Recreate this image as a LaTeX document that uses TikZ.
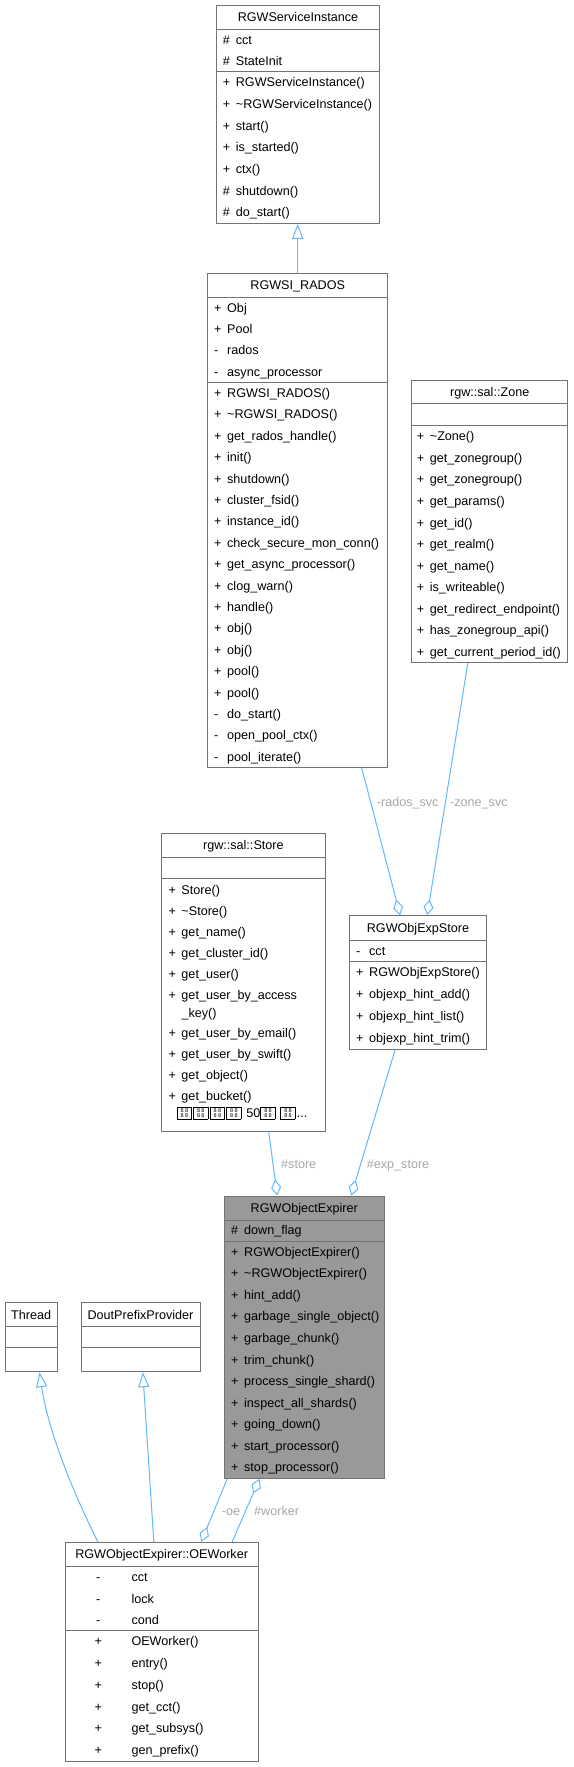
\documentclass[tikz,border=0pt]{standalone}
\usepackage{fontspec}
\setmainfont{Liberation Sans}
\usetikzlibrary{arrows.meta}
\definecolor{edgec}{HTML}{63B8FF}
\definecolor{boxc}{HTML}{737373}
\definecolor{labc}{HTML}{A8A8A8}
\definecolor{hlc}{HTML}{999999}
\newcommand\vpub{\makebox[13pt][l]{+}}
\newcommand\vpro{\makebox[13pt][l]{\#}}
\newcommand\vpri{\makebox[13pt][l]{-}}
\newcommand\tofu{\raisebox{-1.5pt}{\setlength\fboxsep{0pt}\setlength\fboxrule{0.7pt}\fbox{\vbox to 11.6pt{\baselineskip=0pt\lineskip=1pt\vss
  \hbox to 13.6pt{\hss\fontsize{5.5}{5}\selectfont 8\kern1.2pt8\hss}
  \hbox to 13.6pt{\hss\fontsize{5.5}{5}\selectfont 8\kern1.2pt8\hss}\vss}}}\kern1.5pt}
% [opt] name x1 x2 y0 y1 y2 y3 title
\newcommand\classbox[9][]{%
  \node[clsbox,#1,minimum width={#4-#3},minimum height={#8-#5}] (#2) at ({(#3+#4)/2},{(#5+#8)/2}) {};
  \draw[sepline] (#3,#6) -- (#4,#6);
  \draw[sepline] (#3,#7) -- (#4,#7);
  \node[rowtext,anchor=base] (#2-title) at ({(#3+#4)/2},{(#5+#6)/2+4.4}) {#9};
}
% prefix x ytop ybot n list
\newcommand\rowlist[6]{%
  \foreach \t [count=\i] in {#6} {
    \pgfmathsetmacro\yy{#3+(\i-0.5)*(#4-#3)/#5+4.4}
    \node[rowtext,anchor=base west] (#1-\i) at (#2,\yy) {\t};
  }
}
\begin{document}
\begin{tikzpicture}[x=1pt,y=-1pt,
  clsbox/.style={draw=boxc,line width=1pt,fill=white,inner sep=0pt,rectangle},
  sepline/.style={draw=boxc,line width=1pt},
  rowtext/.style={font=\fontsize{12.6}{15}\selectfont,inner sep=0pt,text=black},
  labtext/.style={font=\fontsize{12.6}{15}\selectfont,inner sep=0pt,text=labc,anchor=base west},
  inh/.style={draw=edgec,line width=1pt,-{Triangle[open,length=15pt,width=11pt]}},
  agg/.style={draw=edgec,line width=1pt,-{Diamond[open,length=16pt,width=10pt]}}]
\fill[white] (0,0) rectangle (573,1767);
\useasboundingbox (0,0) rectangle (573,1767);

% RGWServiceInstance
\classbox{svc}{216.7}{379.3}{5.3}{29.3}{71.7}{223.3}{RGWServiceInstance}
\rowlist{svc-a}{222.7}{29.3}{71.7}{2}{\vpro{cct},\vpro{StateInit}}
\rowlist{svc-m}{222.7}{71.7}{223.3}{7}{\vpub{RGWServiceInstance()},\vpub{\textasciitilde RGWServiceInstance()},\vpub{start()},\vpub{is\_started()},\vpub{ctx()},\vpro{shutdown()},\vpro{do\_start()}}

% RGWSI_RADOS
\classbox{rados}{207.7}{387.7}{273.3}{297.3}{382.3}{767.7}{RGWSI\_RADOS}
\rowlist{rados-a}{214}{297.3}{382.3}{4}{\vpub{Obj},\vpub{Pool},\vpri{rados},\vpri{async\_processor}}
\rowlist{rados-m}{214}{382.3}{767.7}{18}{\vpub{RGWSI\_RADOS()},\vpub{\textasciitilde RGWSI\_RADOS()},\vpub{get\_rados\_handle()},\vpub{init()},\vpub{shutdown()},\vpub{cluster\_fsid()},\vpub{instance\_id()},\vpub{check\_secure\_mon\_conn()},\vpub{get\_async\_processor()},\vpub{clog\_warn()},\vpub{handle()},\vpub{obj()},\vpub{obj()},\vpub{pool()},\vpub{pool()},\vpri{do\_start()},\vpri{open\_pool\_ctx()},\vpri{pool\_iterate()}}

% rgw::sal::Zone
\classbox{zone}{411.7}{567.7}{380.7}{403.3}{425.7}{662.7}{rgw::sal::Zone}
\rowlist{zone-m}{416.7}{425.7}{662.7}{11}{\vpub{\textasciitilde Zone()},\vpub{get\_zonegroup()},\vpub{get\_zonegroup()},\vpub{get\_params()},\vpub{get\_id()},\vpub{get\_realm()},\vpub{get\_name()},\vpub{is\_writeable()},\vpub{get\_redirect\_endpoint()},\vpub{has\_zonegroup\_api()},\vpub{get\_current\_period\_id()}}

% rgw::sal::Store
\classbox{store}{161.7}{325}{833.3}{857.3}{878.3}{1131.7}{rgw::sal::Store}
\foreach \yy/\t [count=\i] in {890/\vpub{Store()},911/\vpub{\textasciitilde Store()},932/\vpub{get\_name()},953/\vpub{get\_cluster\_id()},974/\vpub{get\_user()},994.8/{\vtop{\baselineskip=18pt\hbox{\vpub{get\_user\_by\_access}}\hbox{\makebox[13pt]{}\_key()}}},1033.5/\vpub{get\_user\_by\_email()},1054.5/\vpub{get\_user\_by\_swift()},1075.5/\vpub{get\_object()},1096.3/\vpub{get\_bucket()}} {
  \node[rowtext,anchor=base west] (store-m\i) at (168.3,\yy+4.4) {\t};
}
\node[rowtext,anchor=base west] (store-more) at (176.7,1117.6) {\tofu\tofu\tofu\tofu\ 50\tofu\ \tofu...};

% RGWObjExpStore
\classbox{oes}{349.3}{486.7}{915.7}{940.3}{961.3}{1049}{RGWObjExpStore}
\rowlist{oes-a}{356}{940.3}{961.3}{1}{\vpri{cct}}
\rowlist{oes-m}{356}{961.3}{1049}{4}{\vpub{RGWObjExpStore()},\vpub{objexp\_hint\_add()},\vpub{objexp\_hint\_list()},\vpub{objexp\_hint\_trim()}}

% RGWObjectExpirer
\classbox[fill=hlc]{exp}{224.3}{384.3}{1196}{1220}{1241}{1478.3}{RGWObjectExpirer}
\rowlist{exp-a}{231}{1220}{1241}{1}{\vpro{down\_flag}}
\rowlist{exp-m}{231}{1241}{1478.3}{11}{\vpub{RGWObjectExpirer()},\vpub{\textasciitilde RGWObjectExpirer()},\vpub{hint\_add()},\vpub{garbage\_single\_object()},\vpub{garbage\_chunk()},\vpub{trim\_chunk()},\vpub{process\_single\_shard()},\vpub{inspect\_all\_shards()},\vpub{going\_down()},\vpub{start\_processor()},\vpub{stop\_processor()}}

% Thread, DoutPrefixProvider
\classbox{thread}{5}{57.3}{1302.7}{1326.7}{1347.7}{1371.7}{Thread}
\classbox{dout}{81}{200}{1302.7}{1326.7}{1347.7}{1371.7}{DoutPrefixProvider}

% OEWorker
\classbox{oew}{65}{258.3}{1542.3}{1566.7}{1630.7}{1761}{RGWObjectExpirer::OEWorker}
\foreach \v/\t [count=\i] in {-/cct,-/lock,-/cond} {
  \pgfmathsetmacro\yy{1566.7+(\i-0.5)*64/3+4.4}
  \node[rowtext,anchor=base] (oew-av\i) at (98.3,\yy) {\v};
  \node[rowtext,anchor=base west] (oew-a\i) at (131.3,\yy) {\t};
}
\foreach \v/\t [count=\i] in {+/OEWorker(),+/entry(),+/stop(),+/get\_cct(),+/get\_subsys(),+/gen\_prefix()} {
  \pgfmathsetmacro\yy{1630.7+(\i-0.5)*130.3/6+4.4}
  \node[rowtext,anchor=base] (oew-mv\i) at (98.3,\yy) {\v};
  \node[rowtext,anchor=base west] (oew-m\i) at (131.3,\yy) {\t};
}

% connectors
\draw[inh] (rados.north) -- (rados.north |- svc.south);
\draw[agg] ([xshift=154.6pt]rados.south west) -- ([xshift=51.4pt]oes.north west);
\draw[agg] ([xshift=56.6pt]zone.south west) -- ([xshift=78.4pt]oes.north west);
\draw[agg] ([xshift=107.6pt]store.south west) -- ([xshift=53.4pt]exp.north west);
\draw[agg] ([xshift=46.4pt]oes.south west) -- ([xshift=127.4pt]exp.north west);
\draw[inh] ([xshift=33.3pt]oew.north west) .. controls (72,1490) and (48,1430) .. ([xshift=35pt]thread.south west);
\draw[inh] ([xshift=89.3pt]oew.north west) -- ([xshift=62.3pt]dout.south west);
\draw[agg] ([xshift=3.4pt]exp.south west) -- ([xshift=136.7pt]oew.north west);
\draw[agg] ([xshift=167.7pt]oew.north west) -- ([xshift=35.7pt]exp.south west);

% labels
\node[labtext] (l-rados) at (376.7,806.4) {-rados\_svc};
\node[labtext] (l-zone) at (450,806.4) {-zone\_svc};
\node[labtext] (l-store) at (281,1168.4) {\#store};
\node[labtext] (l-exps) at (366.7,1168.4) {\#exp\_store};
\node[labtext] (l-oe) at (221.7,1515) {-oe};
\node[labtext] (l-worker) at (254,1515) {\#worker};
\end{tikzpicture}
\end{document}
